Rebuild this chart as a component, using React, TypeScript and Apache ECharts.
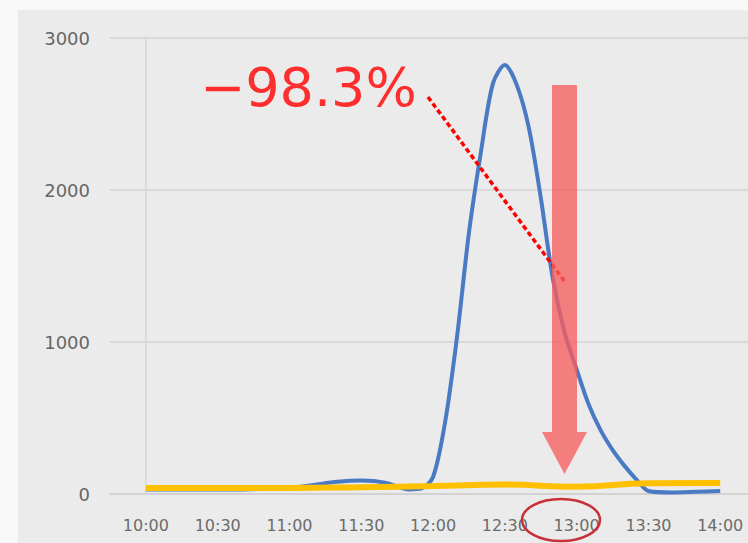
import React, { useEffect, useRef } from "react";
import * as echarts from "echarts";

// minutes after 10:00
const timeTicks = [0, 30, 60, 90, 120, 150, 180, 210, 240];
const blueMinutes = [0, 10, 20, 30, 40, 50, 60, 70, 80, 90, 100, 110, 115, 120, 125, 130, 135, 140, 145, 150, 155, 160, 165, 170, 175, 180, 185, 190, 195, 200, 205, 210, 220, 230, 240];
const blueValues = [30, 30, 30, 30, 30, 35, 40, 60, 80, 88, 75, 30, 35, 112, 470, 1033, 1720, 2250, 2700, 2822, 2690, 2410, 1950, 1420, 1060, 820, 590, 420, 290, 185, 95, 20, 10, 15, 20];
const yellowMinutes = [0, 30, 60, 90, 120, 150, 180, 210, 240];
const yellowValues = [40, 40, 40, 45, 52, 62, 48, 70, 72];
const yTicks = { min: 0, max: 3000, interval: 1000 };
const annotationText = "\u221298.3%";

const fmtTime = (m: number) => {
  const h = 10 + Math.floor(m / 60);
  const mm = m % 60;
  return `${h}:${mm < 10 ? "0" + mm : mm}`;
};

export default function App() {
  const ref = useRef<HTMLDivElement>(null);
  useEffect(() => {
    if (!ref.current) return;
    const chart = echarts.init(ref.current, undefined, { renderer: "svg" });
    chart.setOption({
      animation: false,
      backgroundColor: "#EBEBEB",
      grid: { left: 110, top: 38, right: 0, height: 456, containLabel: false },
      xAxis: {
        type: "value",
        min: -15,
        max: 251.6,
        axisTick: { show: false },
        axisLine: { show: true, onZero: false, lineStyle: { color: "#CFCFCF", width: 1.5 } },
        axisLabel: {
          customValues: timeTicks,
          formatter: (v: number) => fmtTime(v),
          fontSize: 16,
          color: "#6b6b6b",
          margin: 23,
          fontFamily: "DejaVu Sans",
        },
        splitLine: { show: false },
      },
      yAxis: {
        type: "value",
        min: yTicks.min,
        max: yTicks.max,
        interval: yTicks.interval,
        axisLine: { show: true, lineStyle: { color: "#D6D6D6", width: 1.5 } },
        axisTick: { show: false },
        axisLabel: {
          fontSize: 18,
          color: "#666666",
          margin: 20,
          fontFamily: "DejaVu Sans",
          formatter: (v: number) => String(v),
        },
        splitLine: { show: true, lineStyle: { color: "#D3D3D3", width: 1.5 } },
      },
      series: [
        {
          type: "line",
          data: blueMinutes.map((m, i) => [m, blueValues[i]]),
          smooth: 0.3,
          symbol: "none",
          lineStyle: { color: "#4A7AC4", width: 4 },
          z: 2,
        },
        {
          type: "line",
          data: yellowMinutes.map((m, i) => [m, yellowValues[i]]),
          smooth: true,
          symbol: "none",
          lineStyle: { color: "#FFC000", width: 6 },
          z: 3,
        },
      ],
      graphic: [
        { type: "rect", shape: { x: 0, y: 0, width: 748, height: 10 }, style: { fill: "#F8F8F8" }, silent: true },
        { type: "rect", shape: { x: 0, y: 0, width: 18, height: 543 }, style: { fill: "#F8F8F8" }, silent: true },
        {
          type: "text",
          x: 200,
          y: 60,
          z: 100,
          style: {
            text: annotationText,
            fontSize: 54,
            fontFamily: "DejaVu Sans",
            fill: "#FF2E2E",
          },
        },
        {
          type: "line",
          z: 100,
          shape: { x1: 428, y1: 97, x2: 565, y2: 282 },
          style: { stroke: "#FF0000", lineWidth: 3.5, lineDash: [5, 3] },
        },
        {
          type: "polygon",
          z: 101,
          shape: {
            points: [
              [552, 85],
              [577, 85],
              [577, 432],
              [587, 432],
              [564.5, 474],
              [542, 432],
              [552, 432],
            ],
          },
          style: { fill: "rgba(246,94,94,0.78)" },
        },
        {
          type: "ellipse",
          z: 100,
          shape: { cx: 561, cy: 520, rx: 39, ry: 21 },
          style: { fill: "none", stroke: "#C9303A", lineWidth: 2.5 },
        },
      ],
    });
    return () => chart.dispose();
  }, []);
  return <div ref={ref} style={{ position: "absolute", left: 0, top: 0, width: 748, height: 543 }} />;
}
